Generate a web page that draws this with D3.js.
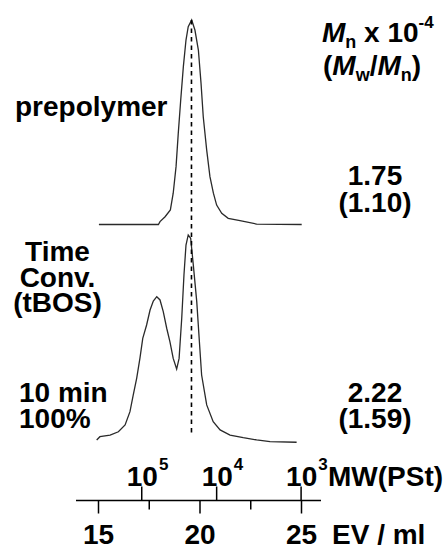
<!DOCTYPE html>
<html><head><meta charset="utf-8">
<script src="https://cdn.jsdelivr.net/npm/d3@7"></script>
<style>
html,body{margin:0;padding:0;background:#fff;}
svg text{font-family:"Liberation Sans",Arial,Helvetica,sans-serif;font-weight:bold;fill:#000;}
</style></head>
<body>
<svg id="c" width="448" height="550"></svg>
<script>
// elution volume (ml) and normalized intensity
const prepolymerEV = [15.02,17.95,18.03,18.28,18.54,18.68,18.82,18.93,19.05,19.18,19.31,19.42,19.59,19.75,19.92,20.05,20.16,20.33,20.49,20.66,20.82,21.07,21.39,21.97,22.79,25.01];
const prepolymerI  = [0,0,0.014,0.038,0.071,0.153,0.283,0.447,0.609,0.772,0.902,0.967,1.0,0.951,0.853,0.692,0.527,0.364,0.234,0.153,0.095,0.055,0.030,0.019,0.002,0];
const min10EV = [14.91,15.07,15.57,15.98,16.31,16.55,16.71,16.88,17.04,17.18,17.37,17.54,17.70,17.87,18.03,18.19,18.36,18.52,18.68,18.85,18.97,19.10,19.21,19.31,19.42,19.54,19.67,19.84,19.97,20.08,20.33,20.65,20.99,21.48,22.13,22.79,23.45,24.76];
const min10I  = [0.005,0.021,0.029,0.045,0.078,0.143,0.224,0.306,0.403,0.501,0.566,0.639,0.683,0.704,0.688,0.631,0.550,0.484,0.403,0.351,0.403,0.599,0.810,0.956,1.005,0.989,0.859,0.680,0.484,0.322,0.176,0.094,0.054,0.029,0.016,0.005,-0.003,-0.006];
const peakEV = 19.58;
const evTicks = [15,20,25];
const evMinorTicks = [17.5,22.5];
const mwTickEV = [17.13,20.82,24.98];
const mwTickExp = ["5","4","3"];
const mnValues = ["1.75","2.22"];
const pdiValues = ["(1.10)","(1.59)"];

const svg = d3.select("#c");
const x = d3.scaleLinear().domain([15,25]).range([98.5,301.5]);
const yTop = d3.scaleLinear().domain([0,1]).range([224.5,20]);
const yBot = d3.scaleLinear().domain([0,1]).range([441,236]);

const line = (ys) => d3.line().x(d=>x(d[0])).y(d=>ys(d[1])).curve(d3.curveLinear);

svg.append("path").datum(d3.zip(prepolymerEV,prepolymerI))
  .attr("d", line(yTop)).attr("fill","none").attr("stroke","#2a2a2a").attr("stroke-width",1.3);
svg.append("path").datum(d3.zip(min10EV,min10I))
  .attr("d", line(yBot)).attr("fill","none").attr("stroke","#2a2a2a").attr("stroke-width",1.3);

// dashed reference line
svg.append("line").attr("x1",x(peakEV)).attr("x2",x(peakEV)).attr("y1",yTop(1)).attr("y2",436)
  .attr("stroke","#000").attr("stroke-width",1.6).attr("stroke-dasharray","4.5,4");

// bottom axes
const axisY = 500.5;
const axisG = svg.append("g").attr("transform",`translate(0,${axisY})`);
axisG.append("line").attr("x1",76).attr("x2",321).attr("y1",0).attr("y2",0).attr("stroke","#000").attr("stroke-width",1.6);
axisG.selectAll("line.maj").data(evTicks).enter().append("line")
  .attr("x1",d=>x(d)).attr("x2",d=>x(d)).attr("y1",0).attr("y2",13).attr("stroke","#000").attr("stroke-width",1.5);
axisG.selectAll("line.min").data(evMinorTicks).enter().append("line")
  .attr("x1",d=>x(d)).attr("x2",d=>x(d)).attr("y1",0).attr("y2",9).attr("stroke","#000").attr("stroke-width",1.5);
axisG.selectAll("line.mw").data(mwTickEV).enter().append("line")
  .attr("x1",d=>x(d)).attr("x2",d=>x(d)).attr("y1",0).attr("y2",-14).attr("stroke","#000").attr("stroke-width",1.5);

svg.selectAll("text.ev").data(evTicks).enter().append("text")
  .attr("x",d=>x(d)).attr("y",544).attr("text-anchor","middle").attr("font-size",28).text(d=>d);
svg.append("text").attr("x",332).attr("y",544).attr("font-size",28).text("EV / ml");

const mwT = svg.selectAll("text.mw").data(d3.zip(mwTickEV,mwTickExp)).enter().append("text")
  .attr("x",d=>x(d[0])-15).attr("y",486).attr("font-size",28);
mwT.append("tspan").text("10");
mwT.append("tspan").attr("font-size",17).attr("dy",-16).attr("dx",1).text(d=>d[1]);
svg.append("text").attr("x",328).attr("y",486).attr("font-size",28).text("MW(PSt)");

// left labels (multi-line blocks as single text elements)
svg.append("text").attr("x",15).attr("y",116).attr("font-size",28).text("prepolymer");
const tc = svg.append("text").attr("y",261).attr("text-anchor","middle").attr("font-size",28);
["Time","Conv.","(tBOS)"].forEach((t,i)=>{
  tc.append("tspan").attr("x",57.5).attr("dy",i===0?0:25.7).text(t);
});
const tm = svg.append("text").attr("y",402).attr("font-size",28);
["10 min","100%"].forEach((t,i)=>{
  tm.append("tspan").attr("x",19).attr("dy",i===0?0:26).text(t);
});

// right header
const h = svg.append("text").attr("x",322).attr("y",42).attr("font-size",28);
h.append("tspan").attr("font-style","italic").text("M");
h.append("tspan").attr("font-size",18).attr("dy",6).text("n");
h.append("tspan").attr("dy",-6).text(" x 10");
h.append("tspan").attr("font-size",17).attr("dy",-14).text("-4");
h.append("tspan").attr("x",323).attr("dy",47).text("(");
h.append("tspan").attr("font-style","italic").text("M");
h.append("tspan").attr("font-size",18).attr("dy",6).text("w");
h.append("tspan").attr("dy",-6).text("/");
h.append("tspan").attr("font-style","italic").text("M");
h.append("tspan").attr("font-size",18).attr("dy",6).text("n");
h.append("tspan").attr("dy",-6).text(")");

// right values
mnValues.forEach((v,i)=>{
  const yb = i===0 ? 185 : 401.5;
  const t = svg.append("text").attr("y",yb).attr("text-anchor","middle").attr("font-size",28);
  t.append("tspan").attr("x",375).text(v);
  t.append("tspan").attr("x",375).attr("dy",26.5).text(pdiValues[i]);
});
</script>
</body></html>
